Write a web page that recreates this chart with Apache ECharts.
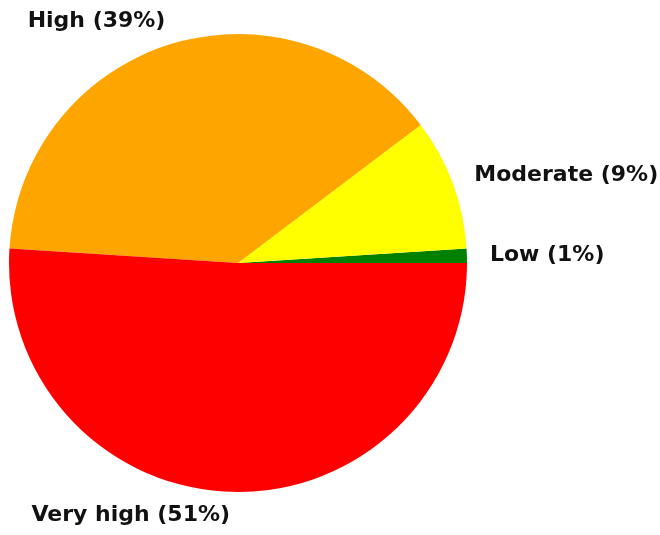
<!DOCTYPE html>
<html>
<head>
<meta charset="utf-8">
<script src="https://cdn.jsdelivr.net/npm/echarts@6/dist/echarts.min.js"></script>
<style>
  html, body { margin: 0; padding: 0; background: #fff; }
  #main { width: 660px; height: 535px; }
</style>
</head>
<body>
<div id="main"></div>
<script>
// pie goes counter-clockwise from 3 o'clock, like the original
var categories = ['Low', 'Moderate', 'High', 'Very high'];
var shares = [1.0, 9.3, 38.7, 51.0];
var labelPct = [1, 9, 39, 51];
var colors = ['#008000', '#ffff00', '#ffa500', '#ff0000'];

var pieData = categories.map(function (name, i) {
  return {
    name: name,
    value: shares[i],
    pct: labelPct[i],
    itemStyle: { color: colors[i] }
  };
});

var chart = echarts.init(document.getElementById('main'));
chart.setOption({
  animation: false,
  backgroundColor: '#fff',
  series: [{
    type: 'pie',
    center: [238, 263],
    radius: 229,
    startAngle: 0,
    clockwise: false,
    avoidLabelOverlap: false,
    minShowLabelAngle: 0,
    data: pieData,
    itemStyle: { borderWidth: 0 },
    emphasis: { disabled: true },
    label: {
      show: true,
      position: 'outside',
      distanceToLabelLine: 0,
      fontFamily: 'DejaVu Sans',
      fontWeight: 'bold',
      fontSize: 22,
      color: '#111',
      formatter: function (p) {
        return p.name + ' (' + p.data.pct + '%)';
      }
    },
    labelLine: { show: false, length: 23, length2: 0 }
  }]
});
</script>
</body>
</html>
